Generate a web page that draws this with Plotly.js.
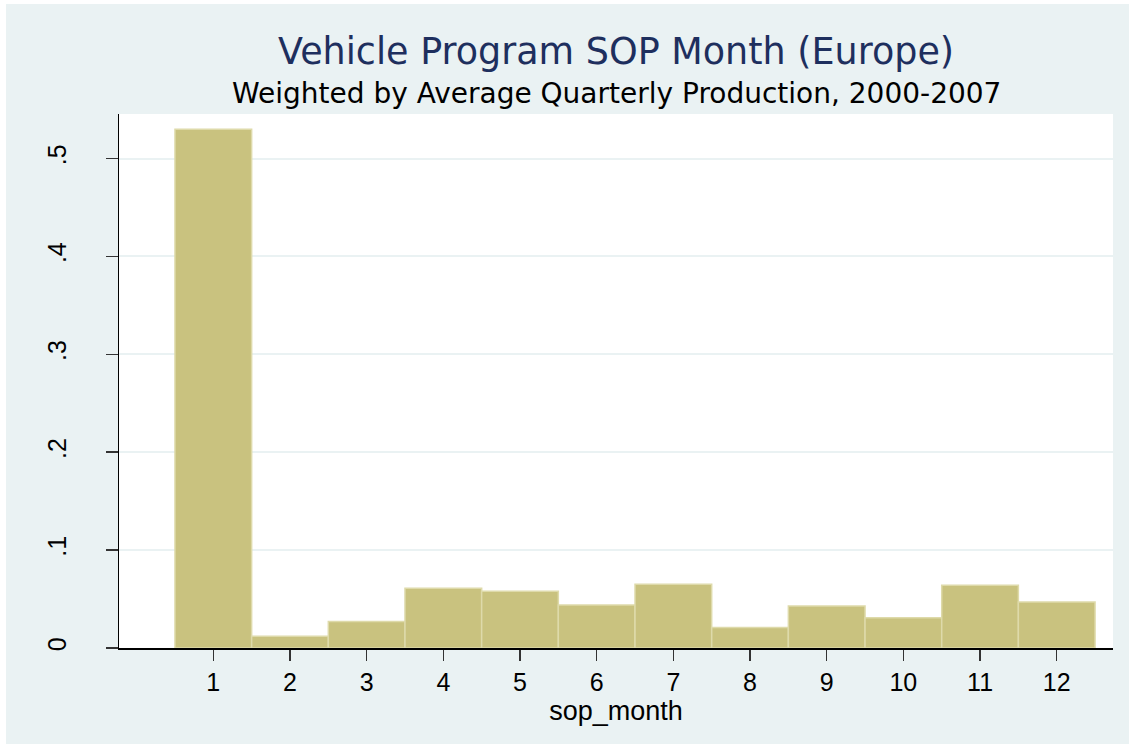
<!DOCTYPE html>
<html>
<head>
<meta charset="utf-8">
<script src="https://cdn.plot.ly/plotly-3.0.1.min.js"></script>
<style>
html,body{margin:0;padding:0;background:#ffffff;}
#chart{position:absolute;left:6px;top:4px;width:1123px;height:740px;}
</style>
</head>
<body>
<div id="chart"></div>
<script>
const months = [1,2,3,4,5,6,7,8,9,10,11,12];
const density = [0.530,0.012,0.027,0.061,0.058,0.044,0.065,0.021,0.043,0.031,0.064,0.047];
const yTickVals = [0,0.1,0.2,0.3,0.4,0.5];
const yTickText = ['0','.1','.2','.3','.4','.5'];
const titleText = 'Vehicle Program SOP Month (Europe)';
const subtitleText = 'Weighted by Average Quarterly Production, 2000-2007';
const xTitle = 'sop_month';

const H = 740, T = 110, B = 96;
const plotH = H - T - B;
function pxToPaperY(p) { return 1 + (T - p) / plotH; }

const trace = {
  type: 'bar',
  x: months,
  y: density,
  width: 1,
  marker: {color: '#C9C27F', line: {color: '#DEDAAA', width: 1.5}},
  hoverinfo: 'x+y'
};

const layout = {
  width: 1123, height: H,
  paper_bgcolor: '#EAF2F3',
  plot_bgcolor: '#FFFFFF',
  margin: {l: 113, r: 16, t: T, b: B},
  font: {family: 'Liberation Sans, Arial, sans-serif', color: '#000'},
  showlegend: false,
  bargap: 0,
  annotations: [
    {text: titleText, xref: 'paper', yref: 'paper', x: 0.5, y: pxToPaperY(47),
     xanchor: 'center', yanchor: 'middle', showarrow: false,
     font: {family: 'DejaVu Sans, sans-serif', size: 36.5, color: '#1E2F5E'}},
    {text: subtitleText, xref: 'paper', yref: 'paper', x: 0.5, y: pxToPaperY(89),
     xanchor: 'center', yanchor: 'middle', showarrow: false,
     font: {family: 'DejaVu Sans, sans-serif', size: 28, color: '#000'}}
  ],
  xaxis: {
    range: [-0.23, 12.734],
    tickvals: months,
    ticktext: months.map(String),
    ticks: 'outside', ticklen: 11, tickwidth: 1.5, tickcolor: '#333',
    showline: true, linecolor: '#000', linewidth: 1.5,
    showgrid: false, zeroline: false,
    tickfont: {size: 25},
    title: {text: xTitle, font: {size: 27}, standoff: 6}
  },
  yaxis: {
    range: [0, 0.5455],
    tickvals: yTickVals,
    ticktext: yTickText,
    tickangle: -90,
    ticks: 'outside', ticklen: 12, tickwidth: 1.5, tickcolor: '#333',
    showline: true, linecolor: '#000', linewidth: 1.5,
    showgrid: true, gridcolor: '#EAF2F3', gridwidth: 2,
    zeroline: false,
    tickfont: {size: 25},
    ticklabelstandoff: 30
  }
};

Plotly.newPlot('chart', [trace], layout, {displayModeBar: false, staticPlot: true});
</script>
</body>
</html>
